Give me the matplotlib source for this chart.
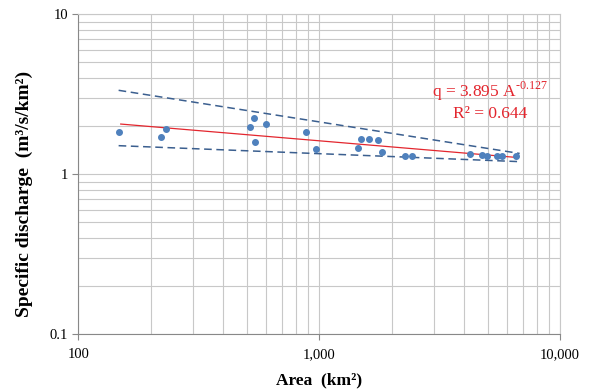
import matplotlib
matplotlib.use("Agg")
import matplotlib.pyplot as plt
from matplotlib.ticker import FixedLocator, FuncFormatter, LogLocator, NullFormatter

plt.rcParams["font.family"] = ["Liberation Serif", "DejaVu Serif"]
plt.rcParams["mathtext.fontset"] = "custom"
plt.rcParams["mathtext.rm"] = "Liberation Serif"

# observed catchments: area (km2) and specific discharge (m3/s/km2)
area = [148, 220, 232, 515, 537, 544, 603, 881, 966, 1452, 1490, 1608,
        1757, 1820, 2275, 2434, 4246, 4745, 4995, 5463, 5741, 6560]
discharge = [1.83, 1.71, 1.92, 1.98, 2.26, 1.60, 2.05, 1.83, 1.44, 1.46, 1.66, 1.66,
             1.64, 1.37, 1.30, 1.30, 1.33, 1.32, 1.30, 1.30, 1.30, 1.31]

# power-law fit q = a * A^b
fit_a = 3.895
fit_b = -0.127
fit_x = [150, 6600]

# envelope lines (start, end)
upper_x = [147, 6800]
upper_y = [3.35, 1.35]
lower_x = [147, 6800]
lower_y = [1.51, 1.20]

POINT_COLOR = "#4f81bd"
DASH_COLOR = "#3b5f8f"
FIT_COLOR = "#e3262e"
GRID_COLOR = "#c8c8c8"

fig = plt.figure(figsize=(6.03, 3.89), dpi=100)
ax = fig.add_axes([0.1299, 0.1406, 0.7988, 0.8226])
ax.set_xscale("log")
ax.set_yscale("log")
ax.set_xlim(100, 10000)
ax.set_ylim(0.1, 10)

ax.xaxis.set_major_locator(FixedLocator([100, 1000, 10000]))
ax.xaxis.set_minor_locator(LogLocator(base=10, subs=range(2, 10)))
ax.yaxis.set_major_locator(FixedLocator([0.1, 1, 10]))
ax.yaxis.set_minor_locator(LogLocator(base=10, subs=range(2, 10)))
ax.xaxis.set_major_formatter(FuncFormatter(lambda v, p: f"{v:,.0f}"))
ax.yaxis.set_major_formatter(FuncFormatter(lambda v, p: f"{v:g}"))
ax.xaxis.set_minor_formatter(NullFormatter())
ax.yaxis.set_minor_formatter(NullFormatter())

ax.grid(True, which="both", color=GRID_COLOR, linewidth=0.8)
ax.set_axisbelow(True)
for side in ["top", "right"]:
    ax.spines[side].set_color(GRID_COLOR)
for side in ["left", "bottom"]:
    ax.spines[side].set_color("#888888")
ax.tick_params(which="major", length=4, color="#888888", labelsize=10.5)
ax.tick_params(which="minor", length=0)
ax.tick_params(axis="x", pad=6)

ax.plot(upper_x, upper_y, linestyle=(0, (5, 3)), color=DASH_COLOR, linewidth=1.1)
ax.plot(lower_x, lower_y, linestyle=(0, (5, 3)), color=DASH_COLOR, linewidth=1.1)
fit_y = [fit_a * x ** fit_b for x in fit_x]
ax.plot(fit_x, fit_y, color=FIT_COLOR, linewidth=0.9)
ax.scatter(area, discharge, s=16, color=POINT_COLOR, zorder=3)

ax.text(0.855, 0.76, r"q = 3.895 A$^{\text{-0.127}}$", transform=ax.transAxes,
        ha="center", va="center", color=FIT_COLOR, fontsize=12.5)
ax.text(0.855, 0.69, "R² = 0.644", transform=ax.transAxes,
        ha="center", va="center", color=FIT_COLOR, fontsize=12.5)

ax.set_xlabel("Area  (km²)", fontsize=12.5, fontweight="bold", labelpad=8)
ax.set_ylabel("Specific discharge  (m³/s/km²)", fontsize=14, fontweight="bold")
ax.yaxis.set_label_coords(-0.094, 0.44)

fig.savefig("out.png", dpi=100)
